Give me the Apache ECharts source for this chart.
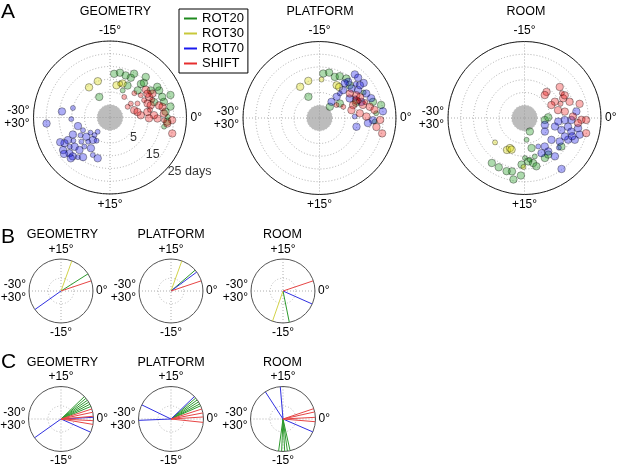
<!DOCTYPE html>
<html><head><meta charset="utf-8">
<script src="https://cdn.jsdelivr.net/npm/echarts@6/dist/echarts.min.js"></script>
<style>html,body{margin:0;padding:0;background:#fff}#c{width:617px;height:469px}</style>
</head><body><div id="c"></div><script>
// ---------- labels ----------
const conditions = ['GEOMETRY', 'PLATFORM', 'ROOM'];
const groups = ['ROT20', 'ROT30', 'ROT70', 'SHIFT'];
const panelLetters = ['A', 'B', 'C'];
const angleTicks = [-30, -15, 0, 15, 30];
const dayTicks = [5, 15, 25];

// ---------- Panel A: [days, angle (deg), large?] ----------
const geoROT20 = [[12.2,-14.1,1],[13.0,-12.9,1],[12.6,-10.4,1],[12.9,-7.9,1],[14.2,-5.6,1],[17.0,-4.8,1],[20.3,-3.4,1],[17.0,-2.7,1],[16.9,-1.0,1],[17.7,-0.1,0],[4.1,-19.6,1],[9.3,-10.2,1],[6.7,-10.8,0],[14.0,-7.6,1],[17.0,-3.6,1],[19.1,-1.7,1],[17.5,0.7,1],[16.5,1.6,0],[12.6,-11.6,1],[10.2,-7.4,1],[13.3,-3.2,1],[16.2,-8.1,1],[14.6,-10.2,1],[17.1,-5.5,1]];
const geoROT30 = [[10.0,-18.1,1],[9.4,-20.8,1],[9.2,-11.6,1],[7.9,-13.1,1],[8.8,-12.2,0]];
const geoROT70 = [[20.0,29.1,1],[14.0,-28.8,1],[10.0,-27.6,0],[10.2,29.6,0],[8.0,27.5,1],[6.7,25.8,0],[4.7,23.7,0],[4.2,21.9,0],[2.4,21.8,0],[6.1,21.2,1],[7.0,23.5,1],[9.7,23.3,0],[13.0,23.4,1],[13.7,25.3,1],[15.5,25.1,1],[16.2,23.1,1],[16.1,22.3,1],[12.5,22.2,1],[10.2,21.9,0],[9.2,20.3,1],[11.7,17.8,1],[11.2,19.1,0],[17.4,24.2,1],[17.2,22.3,1],[12.0,24.6,0],[14.5,24.0,0],[11.0,25.9,1],[8.5,24.8,0],[15.0,21.5,0],[5.5,20.0,0],[18.0,23.6,1],[13.8,20.7,1],[7.8,22.0,0],[16.8,25.6,1]];
const geoSHIFT = [[12.3,-4.6,1],[10.7,-3.4,1],[7.1,-4.5,0],[4.8,-5.6,0],[4.9,-2.8,1],[9.8,-1.4,1],[13.6,0.2,1],[16.2,-0.7,1],[19.4,0.4,1],[20.2,2.4,1],[17.6,1.0,1],[4.8,-9.2,0],[12.8,-6.3,1],[9.9,-6.0,0],[10.0,-4.5,0],[11.7,-2.8,1],[16.0,-1.9,1],[12.3,-0.5,1],[7.1,-0.7,1],[3.1,-5.2,0],[6.0,-1.9,1],[10.3,0.2,1],[16.2,0.5,0],[14.8,-2.3,1],[14.1,-4.9,1],[12.4,-5.4,1],[8.5,-7.5,0],[13.0,-3.8,0],[11.0,-1.8,0]];

const platROT20 = [[12.5,-14.2,1],[13.2,-13.0,1],[4.4,-19.6,1],[12.2,-11.6,1],[13.2,-10.7,1],[13.7,-9.3,1],[1.0,-7.9,1],[16.9,-2.8,1],[19.7,-2.0,1],[17.3,-0.8,0],[16.7,0.6,0],[4.8,-5.9,1],[12.5,-7.9,1],[15.0,-5.0,0],[10.5,-3.8,1]];
const platROT30 = [[9.4,-20.3,1],[10.2,-17.8,1],[9.5,-10.4,1],[9.4,-9.6,1],[10.1,-14.5,0]];
const platROT70 = [[17.0,-8.5,1],[16.9,-7.7,1],[17.1,-6.4,1],[13.1,-8.6,1],[12.1,-7.1,1],[9.3,-8.3,1],[5.7,-8.5,1],[2.9,-8.9,1],[13.7,-6.0,1],[15.7,-4.6,1],[16.7,-3.5,1],[20.0,-1.0,1],[16.0,0.4,1],[14.1,1.0,1],[9.9,2.2,1],[8.8,-0.4,0],[9.1,-5.5,1],[12.6,-3.5,1],[11.8,-9.0,1],[15.4,-6.5,1],[7.5,-8.4,0],[11.0,-4.8,0],[14.5,-7.2,0]];
const platSHIFT = [[12.0,-5.3,1],[12.9,-4.5,1],[11.0,-4.2,1],[9.1,-3.5,1],[12.8,-2.8,1],[15.2,-2.1,1],[16.8,-1.4,1],[18.8,0.3,1],[20.3,2.3,1],[17.6,1.5,1],[7.9,-2.3,1],[5.3,-4.2,0],[3.4,-6.2,0],[13.4,-0.3,1],[10.9,-1.1,1],[10.3,-6.5,1],[11.8,-3.9,0],[14.0,-3.2,0]];

const roomROT20 = [[0.7,11.4,1],[3.6,14.1,0],[3.0,0.9,1],[4.3,-0.3,1],[7.1,12.8,1],[10.7,14.9,0],[12.1,14.2,1],[13.0,13.2,1],[13.3,15.6,1],[16.5,17.2,1],[19.5,16.7,1],[17.0,18.1,1],[16.8,19.6,1],[17.6,15.6,1],[12.6,10.5,1],[14.5,12.7,1],[12.1,9.5,1],[13.3,6.3,1],[10.6,12.5,0],[16.8,21.0,1],[11.5,13.8,0]];
const roomROT30 = [[9.3,19.8,1],[8.1,19.3,1],[8.4,18.7,1],[10.0,23.4,0],[14.2,15.2,0]];
const roomROT70 = [[3.4,3.1,1],[7.4,2.6,1],[10.2,3.0,1],[12.4,1.9,1],[14.1,2.7,1],[16.4,1.8,1],[17.6,2.8,1],[16.5,3.9,1],[14.1,4.4,1],[11.6,5.6,1],[8.6,6.5,1],[8.7,9.1,1],[10.3,10.7,1],[11.1,9.1,1],[14.2,8.6,1],[19.7,9.0,1],[13.4,0.4,1],[10.8,0.5,1],[15.5,-1.2,1],[8.3,1.0,1],[4.6,5.6,1],[12.4,4.1,1],[7.4,10.7,0],[15.0,3.5,1],[12.8,6.8,0]];
const roomSHIFT = [[8.4,-8.3,1],[7.0,-8.1,1],[13.4,-6.9,1],[8.5,-4.7,1],[12.0,-4.5,1],[13.8,-3.3,1],[17.3,-2.4,1],[17.3,0.3,1],[19.2,0.3,1],[19.9,2.3,1],[13.1,-4.9,1],[8.5,-2.2,1],[11.0,-1.5,1],[14.0,-0.3,1],[6.7,-4.3,1],[16.1,0.9,1],[12.6,-5.6,0],[10.2,-3.6,0]];

// ---------- Panel B: mean direction per group [ROT20, ROT30, ROT70, SHIFT] ----------
const bGeometry = [5.4, 11.7, -24.1, 3.1];
const bPlatform = [6.8, 11.7, 6.05, 3.1];
const bRoom = [-13.1, -18.2, -4.0, 3.1];

// ---------- Panel C: individual directions per group ----------
const cGeoROT20 = [7.3, 6.6, 5.9, 5.2, 4.5, 3.8];
const cGeoROT70 = [0.5, -4.0, -24.1];
const cGeoSHIFT = [3.0, 2.0, 0.8, -0.5, -1.6];
const cPlatROT20 = [6.7, 6.0, 5.3, 4.6, 4.0];
const cPlatROT70 = [7.3, 25.7, -29.6];
const cPlatSHIFT = [3.0, 1.8, 0.6, -1.0];
const cRoomROT20 = [-16.3, -15.4, -14.5, -13.7, -12.9];
const cRoomROT70 = [20.5, 15.8, -3.9];
const cRoomSHIFT = [3.1, 2.1, 0.5, -0.8];

// ---------- styling ----------
const FONT = 'Liberation Sans';
const lineColors = ['#1f8a1f', '#c8c83a', '#1a1aee', '#e62e2e'];
const fillColors = ['rgba(0,140,0,0.40)', 'rgba(215,215,0,0.45)', 'rgba(0,0,230,0.40)', 'rgba(240,0,0,0.38)'];
const thinColors = ['#2e9a2e', '#d2d24a', '#3030e0', '#e64545'];
const T = 'rgba(0,0,0,0)';

function degLabel(v) {
  if (v === -30) return '-30°\n+30°';
  if (v === 30) return '';
  if (v > 0) return '+' + v + '°';
  return v + '°';
}

const polars = [], angleAxes = [], radiusAxes = [], series = [], graphics = [];
const aCenters = [[110, 117.5], [319.5, 118], [524.5, 118]];
const bCenters = [[61, 291], [171, 291], [283, 291]];
const cCenters = [[61, 419], [171, 419], [283, 419]];

function addPolar(center, radius, clockwise, big) {
  const idx = polars.length;
  polars.push({ center: center, radius: radius });
  angleAxes.push({
    polarIndex: idx, type: 'value', min: -30, max: 30, interval: 15,
    startAngle: 180, clockwise: clockwise,
    axisLine: { lineStyle: { color: big ? '#222' : '#555', width: 1 } },
    axisTick: { show: false },
    axisLabel: { formatter: degLabel, margin: big ? 4 : 3, color: '#000', fontSize: 12, fontFamily: FONT, lineHeight: 13 },
    splitLine: { lineStyle: { color: '#9a9a9a', type: [1, 2], width: 0.8 } }
  });
  if (big) {
    radiusAxes.push({
      polarIndex: idx, type: 'value', min: -5, max: 25, interval: 5,
      axisLine: { show: false }, axisTick: { show: false }, axisLabel: { show: false },
      splitLine: { lineStyle: { color: '#9a9a9a', type: [1, 2], width: 0.8 } },
      splitArea: { show: true, areaStyle: { color: ['#bcbcbc', T, T, T, T, T] } }
    });
  } else {
    radiusAxes.push({
      polarIndex: idx, type: 'value', min: 0, max: 1, interval: 0.4,
      axisLine: { show: false }, axisTick: { show: false }, axisLabel: { show: false },
      splitLine: { lineStyle: { color: [T, '#aaaaaa', T, T], type: [1, 2], width: 0.8 } }
    });
  }
  return idx;
}

// Panel A
const aData = [
  [geoROT20, geoROT30, geoROT70, geoSHIFT],
  [platROT20, platROT30, platROT70, platSHIFT],
  [roomROT20, roomROT30, roomROT70, roomSHIFT]
];
aCenters.forEach((c, i) => {
  const pi = addPolar(c, 76.5, true, true);
  aData[i].forEach((arr, gi) => {
    series.push({
      type: 'scatter', name: groups[gi], coordinateSystem: 'polar', polarIndex: pi,
      data: arr, symbolSize: d => (d[2] ? 7.5 : 5),
      itemStyle: { color: fillColors[gi], borderColor: 'rgba(0,0,0,0.6)', borderWidth: 0.7 },
      animation: false, z: 3
    });
  });
});
// radial day labels (Panel A, GEOMETRY)
series.push({
  type: 'scatter', coordinateSystem: 'polar', polarIndex: 0, symbolSize: 1, silent: true,
  itemStyle: { color: T }, animation: false, z: 4, clip: false,
  data: dayTicks.map((d, i) => {
    const last = i === dayTicks.length - 1;
    return {
      value: [last ? d : d + 2.2, 6.85],
      label: {
        show: true, position: 'inside', formatter: last ? d + ' days' : String(d),
        align: last ? 'left' : 'center', verticalAlign: 'middle',
        offset: last ? [0, 4] : [0, 0],
        color: '#000', fontSize: 12.5, fontFamily: FONT
      }
    };
  })
});

// Panel B
const bData = [bGeometry, bPlatform, bRoom];
bCenters.forEach((c, i) => {
  const pi = addPolar(c, 32, false, false);
  bData[i].forEach((a, gi) => {
    series.push({
      type: 'line', name: groups[gi] + ' mean', coordinateSystem: 'polar', polarIndex: pi,
      data: [[0, a], [1, a]], symbol: 'none', silent: true, animation: false,
      lineStyle: { color: thinColors[gi], width: 1 }
    });
  });
});

// Panel C
const cData = [
  [cGeoROT20, [], cGeoROT70, cGeoSHIFT],
  [cPlatROT20, [], cPlatROT70, cPlatSHIFT],
  [cRoomROT20, [], cRoomROT70, cRoomSHIFT]
];
cCenters.forEach((c, i) => {
  const pi = addPolar(c, 32.5, false, false);
  cData[i].forEach((arr, gi) => {
    arr.forEach(a => {
      series.push({
        type: 'line', name: groups[gi] + ' ind', coordinateSystem: 'polar', polarIndex: pi,
        data: [[0, a], [1, a]], symbol: 'none', silent: true, animation: false,
        lineStyle: { color: thinColors[gi], width: 1 }
      });
    });
  });
});

// titles
const titleSpots = [
  [[115.5, 12], [320, 12], [526, 12]],
  [[62.5, 235], [171, 235], [282.5, 235]],
  [[62.5, 362.5], [171, 362.5], [282.5, 362.5]]
];
titleSpots.forEach(row => row.forEach((p, i) => {
  graphics.push({ type: 'text', x: p[0], y: p[1], style: { text: conditions[i], align: 'center', verticalAlign: 'middle', font: '12.5px "' + FONT + '"', fill: '#000' } });
}));
const letterSpots = [[1, 12], [1, 237.5], [1, 362.5]];
panelLetters.forEach((l, i) => {
  graphics.push({ type: 'text', x: letterSpots[i][0], y: letterSpots[i][1], style: { text: l, align: 'left', verticalAlign: 'middle', font: '21px "' + FONT + '"', fill: '#000' } });
});

const chart = echarts.init(document.getElementById('c'), null, { renderer: 'canvas' });
chart.setOption({
  animation: false,
  backgroundColor: '#fff',
  textStyle: { fontFamily: FONT },
  polar: polars,
  angleAxis: angleAxes,
  radiusAxis: radiusAxes,
  legend: {
    orient: 'vertical', left: 179, top: 9, padding: [3, 4, 3, 5], itemGap: 2,
    itemWidth: 13, itemHeight: 2, selectedMode: false,
    borderColor: '#000', borderWidth: 1, borderRadius: 0,
    textStyle: { fontSize: 13, fontFamily: FONT, color: '#000', lineHeight: 13 },
    data: groups.map((g, i) => ({ name: g, icon: 'rect', itemStyle: { color: lineColors[i], borderWidth: 0, opacity: 1 } }))
  },
  graphic: graphics,
  series: series
});
</script></body></html>
